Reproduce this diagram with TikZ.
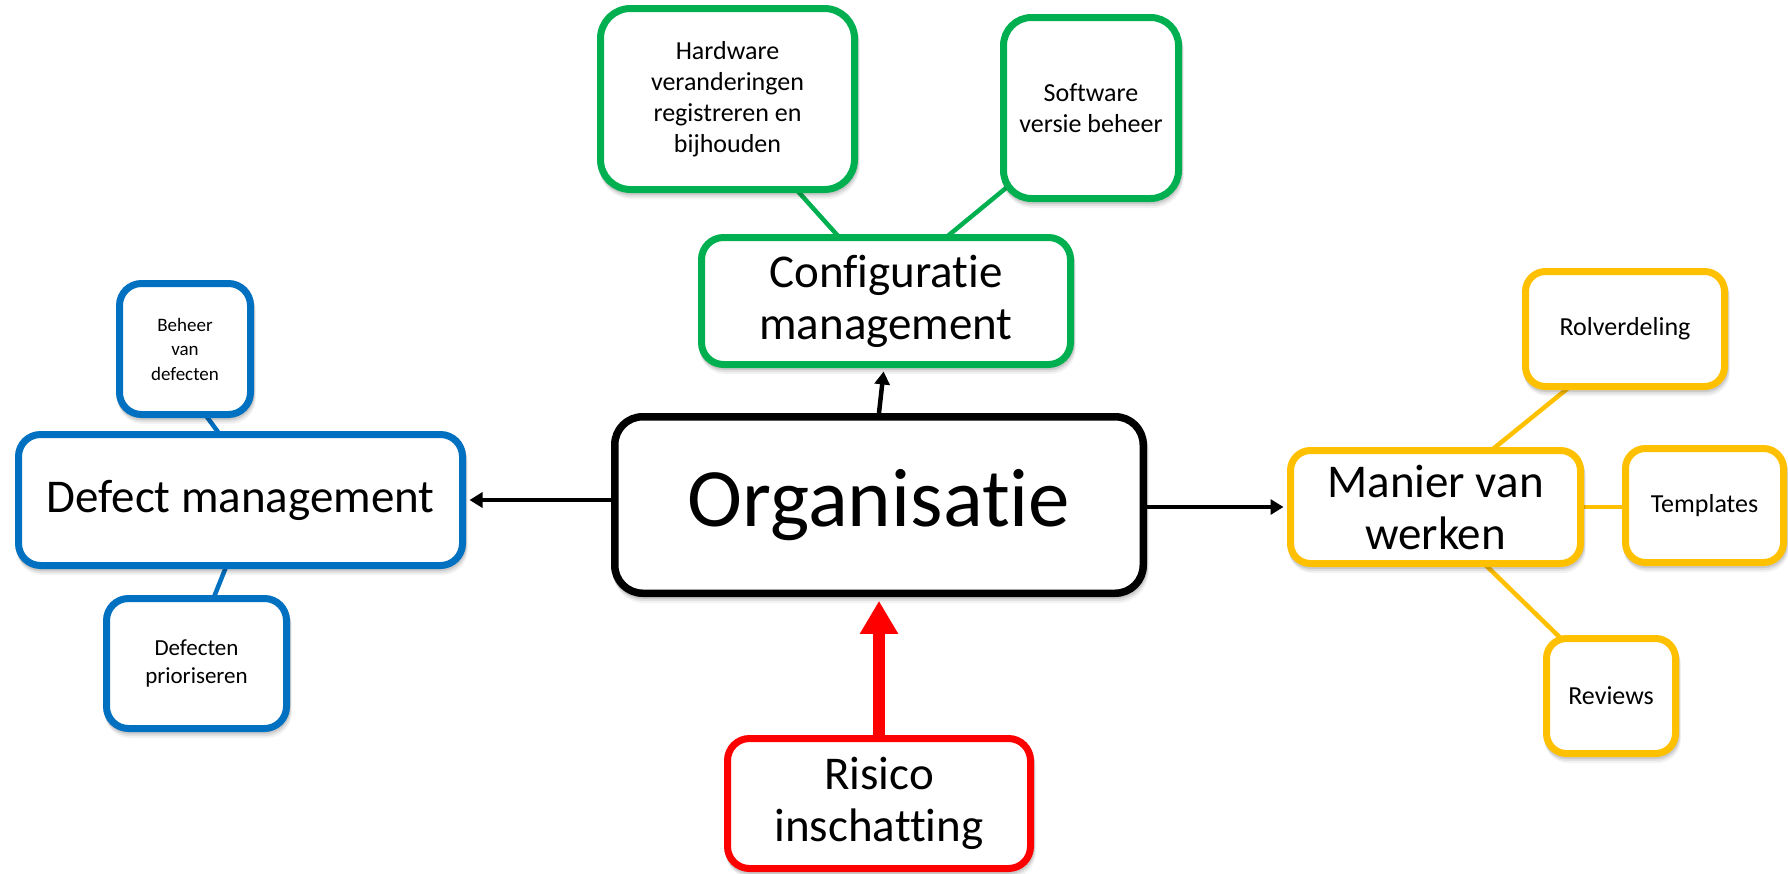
\documentclass[tikz,border=0pt]{standalone}
\usepackage{fontspec}
\setmainfont{Carlito}[Ligatures=NoCommon]
\usetikzlibrary{arrows.meta,calc,backgrounds,shadows}
\definecolor{cgreen}{HTML}{00B050}
\definecolor{cblue}{HTML}{0070C0}
\definecolor{cgold}{HTML}{FFC000}
\definecolor{cred}{HTML}{FF0000}
\begin{document}
\begin{tikzpicture}[x=0.5pt,y=-0.5pt,
  shd/.style={
    general shadow={shadow xshift=0.3pt, shadow yshift=-1pt, draw=black, fill=none, draw opacity=0.10},
    general shadow={shadow xshift=0.6pt, shadow yshift=-2pt, draw=black, fill=none, draw opacity=0.07},
    general shadow={shadow xshift=0.9pt, shadow yshift=-3pt, draw=black, fill=none, draw opacity=0.05}},
  box/.style={shd, draw=#1, line width=3.5pt, fill=white, rounded corners=10pt, inner sep=0pt, align=center, text=black},
  big/.style={font=\fontsize{23.5}{26}\selectfont},
  small/.style={font=\fontsize{13}{15.5}\selectfont},
  link/.style={draw=#1, line width=2.25pt},
  arr/.style={draw=black, line width=2.25pt, -{Triangle[length=6.5pt,width=7.5pt]}, shorten >=1.75pt},
  redarr/.style={draw=cred, line width=5.75pt, -{Triangle[length=16.5pt,width=18pt]}, shorten >=1.9pt}
]
\useasboundingbox (0,0) rectangle (1788,873);

% central node
\node[box=black, line width=3.75pt, rounded corners=14pt, minimum width=264.25pt, minimum height=88.25pt, font=\fontsize{41.5}{48}\selectfont] (org) at (879,505) {Organisatie};

% green group
\node[box=cgreen, rounded corners=11pt, minimum width=184.5pt, minimum height=63.5pt, big] (cfg) at (886,301) {Configuratie\\management};
\node[box=cgreen, rounded corners=15pt, minimum width=127pt, minimum height=90.5pt, small] (hw) at (727.5,99) {Hardware\\veranderingen\\registreren en\\bijhouden};
\node[box=cgreen, rounded corners=14pt, minimum width=87.5pt, minimum height=90.5pt, small] (sw) at (1091,108) {Software\\versie beheer};

% blue group
\node[box=cblue, rounded corners=11pt, minimum width=222pt, minimum height=65.5pt, big] (dm) at (240.5,500) {Defect management};
\node[box=cblue, rounded corners=11pt, minimum width=65.5pt, minimum height=65.5pt, font=\fontsize{9.5}{12.25}\selectfont] (bh) at (185,349) {Beheer\\van\\defecten};
\node[box=cblue, rounded corners=11pt, minimum width=90pt, minimum height=65pt, font=\fontsize{11.5}{14.25}\selectfont] (dp) at (196.5,663.5) {Defecten\\prioriseren};

% red
\node[box=cred, rounded corners=11pt, minimum width=151.5pt, minimum height=65pt, big] (risk) at (879,803.5) {Risico\\inschatting};

% gold group
\node[box=cgold, rounded corners=10pt, minimum width=145pt, minimum height=56.5pt, big] (man) at (1435.5,507) {Manier van\\werken};
\node[box=cgold, minimum width=99.5pt, minimum height=57.5pt, small] (rol) at (1625,329) {Rolverdeling};
\node[box=cgold, minimum width=79pt, minimum height=57pt, small] (tpl) at (1704.5,505.5) {Templates};
\node[box=cgold, minimum width=64.5pt, minimum height=57.5pt, small] (rev) at (1611,696) {Reviews};

% plain connectors behind the boxes
\begin{scope}[on background layer]
\draw[link=cgreen] ($(hw.south)+(62.5,-10.5)$) -- ($(cfg.north)+(-43,7.5)$);
\draw[link=cgreen] ($(sw.south west)+(9,-16.5)$) -- ($(cfg.north)+(57.5,5.5)$);
\draw[link=cblue] ($(bh.south)+(18,-6.5)$) -- ($(dm.north)+(-18.5,6.5)$);
\draw[link=cblue] ($(dm.south)+(-13.5,-4.5)$) -- ($(dp.north)+(16.5,4.5)$);
\draw[link=cgold] ($(man.north)+(57.5,2)$) -- ($(rol.south)+(-55,-3.5)$);
\draw[link=cgold] (man.east) -- (man.east -| tpl.west);
\draw[link=cgold] ($(man.south)+(48.5,-3.5)$) -- ($(rev.north)+(-49,4.5)$);
\end{scope}

% arrows
\draw[arr] (org.west |- dm.east) -- (dm.east);
\draw[arr] (org.east |- man.west) -- (man.west);
\draw[arr] (org.north) -- ([xshift=-1pt]cfg.south);
\draw[redarr] (risk.north) -- (org.south);
\end{tikzpicture}
\end{document}
